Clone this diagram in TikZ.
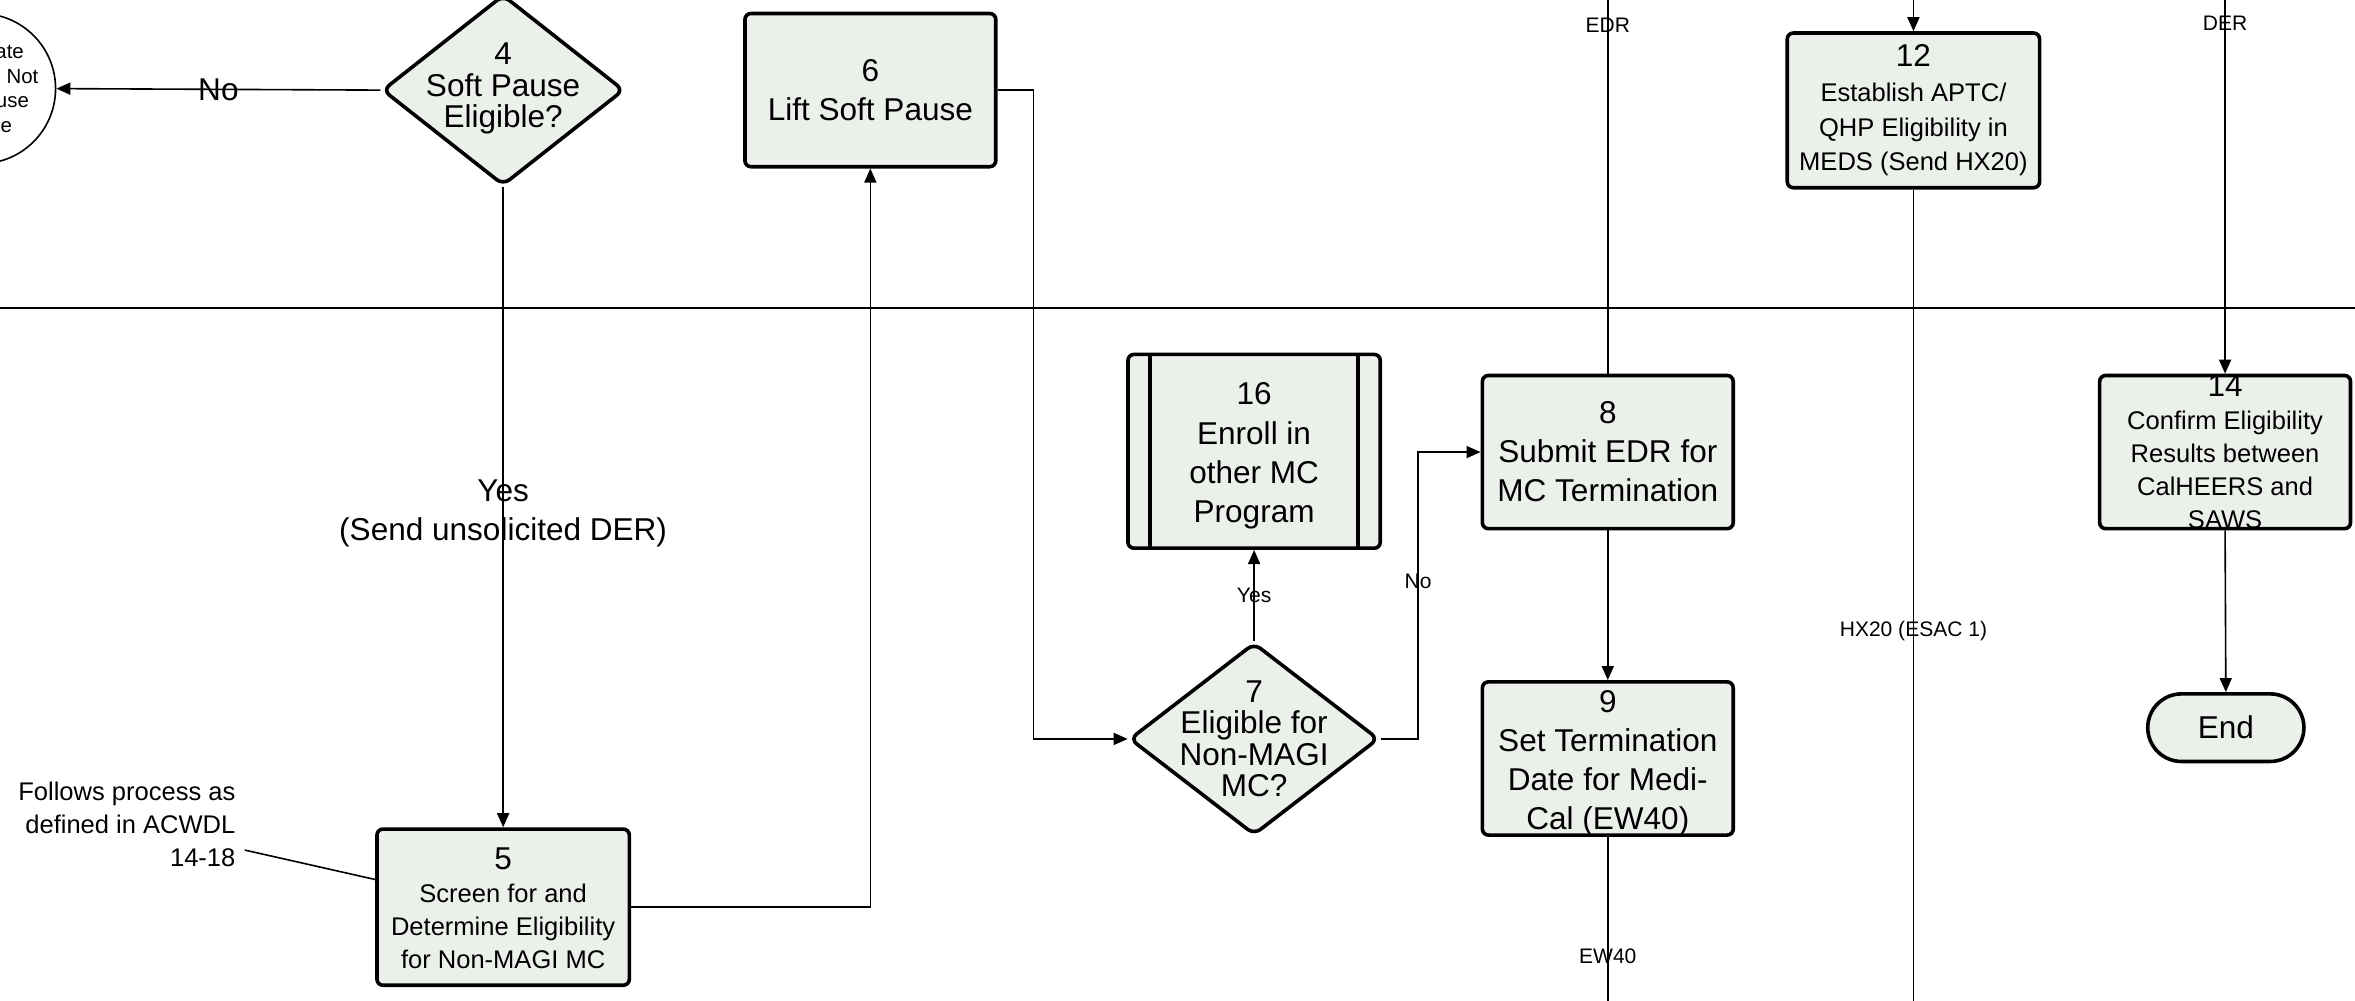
\documentclass[tikz,border=0pt]{standalone}
\usepackage{fontspec}
\setmainfont{Liberation Sans}
\usetikzlibrary{arrows.meta,shapes.geometric,shapes.misc,calc}
\definecolor{boxfill}{RGB}{236,240,235}
\newcommand\FBig{\fontsize{15.75}{19.5}\selectfont}
\newcommand\FDia{\fontsize{15.75}{15.75}\selectfont}
\newcommand\FMed{\fontsize{12.75}{16.5}\selectfont}
\newcommand\FMedB{\fontsize{12.75}{17.25}\selectfont}
\newcommand\FSmall{\fontsize{10.5}{12}\selectfont}
\newcommand\FCirc{\fontsize{10.2}{12.2}\selectfont}
\begin{document}
\begin{tikzpicture}[x=0.75pt,y=-0.75pt,
  procbox/.style={draw,line width=1.8pt,fill=boxfill,rounded corners=3pt,
    minimum width=125.25pt,minimum height=76.5pt,inner sep=0pt},
  decbox/.style={draw,line width=1.8pt,fill=boxfill,diamond,rounded corners=4pt,inner sep=0pt},
  txt/.style={align=center,inner sep=0pt},
  conn/.style={line width=0.8pt},
  arr/.style={conn,-{Triangle[length=7pt,width=6pt]}},
  lbl/.style={inner sep=0pt,font=\FSmall},
]
\useasboundingbox (0,0) rectangle (1568,666);
\begin{scope}
\clip (0,0) rectangle (1568,666);
% divider
\coordinate (divL) at (0,205);
\coordinate (divR) at (1568,205);
\draw[line width=1.2pt] (divL) -- (divR);

% terminator circle (cut off)
\node[draw,circle,minimum size=75pt,line width=0.8pt,inner sep=0pt] (c3) at (-13,59) {};
\node[txt,font=\FCirc] (c3t) at (-14,60) {Terminate\\Process: Not\\Soft Pause\\Eligible};

% decision 4
\node[decbox,minimum width=120.75pt,minimum height=95.25pt] (d4) at (335,60) {};
\node[txt,font=\FDia] (d4t) at (335,59) {4\\Soft Pause\\Eligible?};

% box 6
\node[procbox] (b6) at (579.5,60) {};
\node[txt,font=\FBig] (b6t) at (b6) {6\\Lift Soft Pause};

% box 5
\node[procbox,minimum width=126pt,minimum height=78pt] (b5) at (335,604) {};
\node[txt,font=\FMed] (b5t) at (335,605) {{\FBig 5}\\Screen for and\\Determine Eligibility\\for Non-MAGI MC};

% decision 7
\node[decbox,minimum width=124.5pt,minimum height=96pt] (d7) at (835,492) {};
\node[txt,font=\FDia] (d7t) at (835,492) {7\\Eligible for\\Non-MAGI\\MC?};

% box 16 (predefined process)
\node[procbox,minimum width=126pt,minimum height=96.75pt] (b16) at (835,300.5) {};
\draw[line width=1.8pt] ([xshift=12pt]b16.north west) -- ([xshift=12pt]b16.south west);
\draw[line width=1.8pt] ([xshift=-12pt]b16.north east) -- ([xshift=-12pt]b16.south east);
\node[txt,font=\FBig] (b16t) at (835,303.5) {16\\Enroll in\\other MC\\Program};

% box 8
\node[procbox] (b8) at (1070.5,301) {};
\node[txt,font=\FBig] (b8t) at (b8) {8\\Submit EDR for\\MC Termination};

% box 9
\node[procbox] (b9) at (1070.5,505) {};
\node[txt,font=\FBig] (b9t) at (1070.5,508) {9\\Set Termination\\Date for Medi-\\Cal (EW40)};

% box 12
\node[procbox,minimum width=126pt,minimum height=77.25pt] (b12) at (1274,73.5) {};
\node[txt,font=\FMedB] (b12t) at (b12) {{\FBig 12}\\Establish APTC/\\QHP Eligibility in\\MEDS (Send HX20)};

% box 14
\node[procbox] (b14) at (1481.5,301) {};
\node[txt,font=\FMed] (b14t) at (b14) {{\FBig 14}\\Confirm Eligibility\\Results between\\CalHEERS and\\SAWS};

% end
\node[rounded rectangle,draw,line width=1.8pt,fill=boxfill,minimum width=78pt,
  minimum height=33.75pt,inner sep=0pt,font=\FBig] (end) at (1482,484.5) {End};

% annotation
\node[align=right,font=\FMed,inner sep=0pt,anchor=east] (note) at (157,549)
  {Follows process as\\defined in ACWDL\\14-18};
\coordinate (noteEnd) at (163,566);
\coordinate (b5w) at ($(b5.north west)!0.327!(b5.south west)$);
\draw[conn] (noteEnd) -- (b5w);

% connectors
\draw[arr] (d4.west) -- node[font=\FBig,inner sep=0pt] (lno4) {No} (c3.east);
\draw[arr] (d4.south) -- node[txt,font=\FBig,pos=0.51] (lyes4) {Yes\\(Send unsolicited DER)} (b5.north);
\draw[arr] (b5.east) -| (b6.south);
\draw[arr] (b6.east) -- ++(24,0) |- (d7.west);
\draw[arr] (d7.north) -- node[lbl] (lyes7) {Yes} (b16.south);
\draw[arr] (d7.east) -- ++(25,0) |- node[lbl,pos=0.275] (lno7) {No} (b8.west);

\coordinate (edrTop) at (b8.north |- 0,-5);
\draw[conn] (edrTop) -- node[lbl,pos=0.086] (ledr) {EDR} (b8.north);
\draw[arr] (b8.south) -- (b9.north);
\coordinate (ewBot) at (b9.south |- 0,671);
\draw[conn] (b9.south) -- node[lbl,pos=0.696] (lew) {EW40} (ewBot);

\coordinate (hxTop) at (b12.north |- 0,-5);
\draw[arr] (hxTop) -- (b12.north);
\coordinate (hxBot) at (b12.south |- 0,671);
\draw[conn] (b12.south) -- node[lbl,pos=0.540] (lhx) {HX20 (ESAC 1)} (hxBot);

\coordinate (derTop) at (b14.north |- 0,-5);
\draw[arr] (derTop) -- node[lbl,pos=0.082] (lder) {DER} (b14.north);
\draw[arr] (b14.south) -- (end.north);
\end{scope}
\end{tikzpicture}
\end{document}
